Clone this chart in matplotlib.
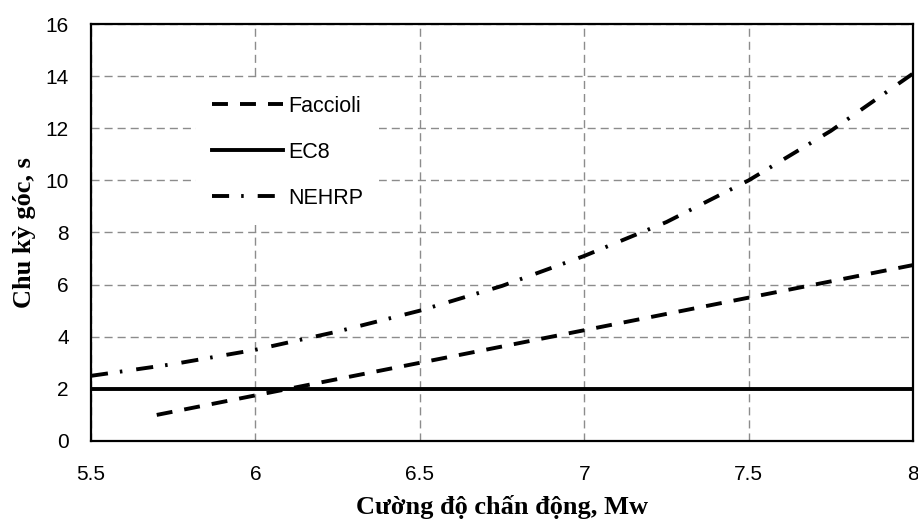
import numpy as np
import matplotlib
matplotlib.use("Agg")
import matplotlib.pyplot as plt

# magnitude vs corner period for three models
mw_faccioli = [5.7, 6.0, 6.5, 7.0, 7.5, 8.0]
t_faccioli = [1.0, 1.75, 3.0, 4.25, 5.5, 6.75]

mw_ec8 = [5.5, 8.0]
t_ec8 = [2.0, 2.0]

mw_nehrp = [5.5, 5.75, 6.0, 6.25, 6.5, 6.75, 7.0, 7.25, 7.5, 7.75, 8.0]
t_nehrp = [2.5, 2.95, 3.5, 4.2, 5.0, 5.95, 7.1, 8.4, 10.0, 11.9, 14.1]

x_ticks = [5.5, 6, 6.5, 7, 7.5, 8]
x_labels = ["5.5", "6", "6.5", "7", "7.5", "8"]
y_ticks = [0, 2, 4, 6, 8, 10, 12, 14, 16]

sans = ["Liberation Sans", "DejaVu Sans"]
serif = ["Liberation Serif", "DejaVu Serif"]

fig = plt.figure(figsize=(9.18, 5.22), dpi=100)
ax = fig.add_axes([0.0991, 0.1552, 0.8955, 0.7988])

lw = 2.8
ax.plot(mw_faccioli, t_faccioli, color="black", lw=lw,
        linestyle=(0, (4.1, 3.1)), label="Faccioli", zorder=3)
ax.plot(mw_ec8, t_ec8, color="black", lw=lw, label="EC8", zorder=3)
ax.plot(mw_nehrp, t_nehrp, color="black", lw=lw,
        linestyle=(0, (4.4, 3.1, 0.65, 3.6)), label="NEHRP", zorder=3)

ax.set_xlim(5.5, 8)
ax.set_ylim(0, 16)
ax.set_xticks(x_ticks)
ax.set_xticklabels(x_labels)
ax.set_yticks(y_ticks)
ax.tick_params(length=0, labelsize=15)
ax.tick_params(axis="x", pad=17)
ax.tick_params(axis="y", pad=16)
for lab in ax.get_xticklabels() + ax.get_yticklabels():
    lab.set_family(sans)

ax.grid(True, color="#8c8c8c", lw=1.0, linestyle=(0, (5.8, 3.6)))
ax.set_axisbelow(True)
for sp in ax.spines.values():
    sp.set_linewidth(1.6)
    sp.set_color("black")

ax.set_xlabel("Cường độ chấn động, Mw", family=serif, fontweight="bold",
              fontsize=19, labelpad=8)
ax.set_ylabel("Chu kỳ góc, s", family=serif, fontweight="bold",
              fontsize=19, labelpad=7)

leg = ax.legend(loc="upper left", bbox_to_anchor=(0.128, 0.866),
                prop={"family": sans, "size": 15.5}, frameon=True,
                fancybox=False, edgecolor="none", facecolor="white",
                framealpha=1.0, handlelength=3.3, handletextpad=0.23,
                labelspacing=1.15, borderpad=0.75, borderaxespad=0)
leg.set_zorder(4)

fig.savefig("out.png", dpi=100)
